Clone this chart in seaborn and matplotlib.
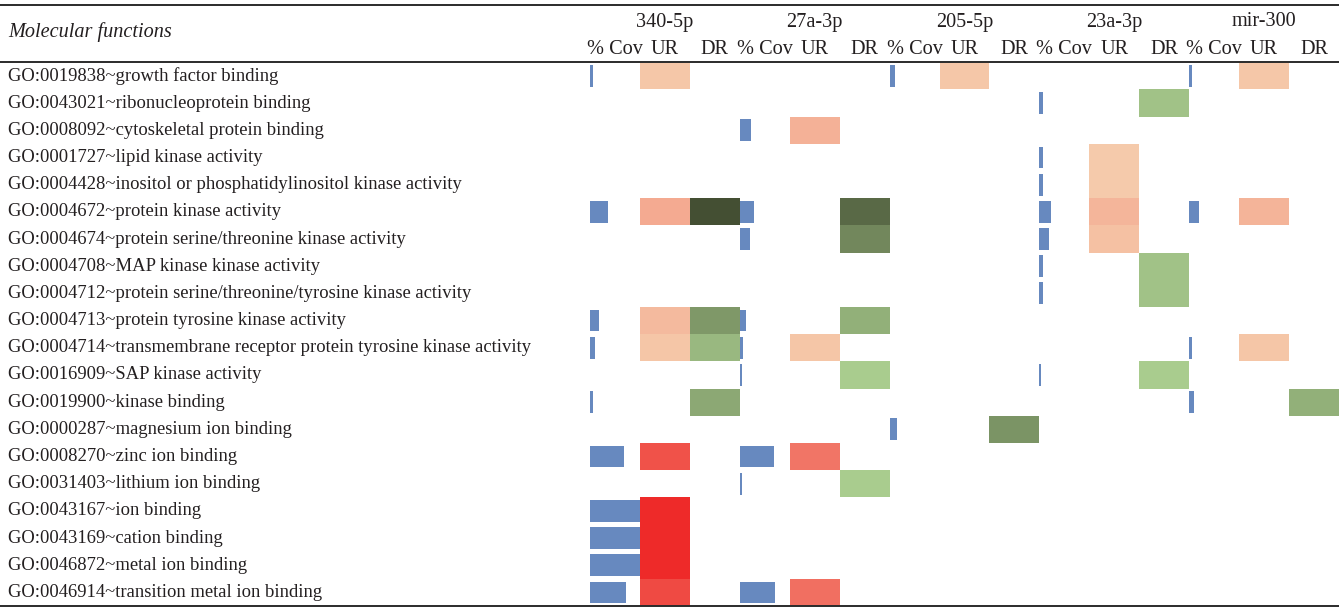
import numpy as np
import pandas as pd
import matplotlib
matplotlib.use('Agg')
import matplotlib.pyplot as plt
import matplotlib.transforms as mtransforms
from matplotlib.colors import LinearSegmentedColormap
from matplotlib.lines import Line2D
import seaborn as sns

nan = np.nan

# GO terms (rows)
go_terms = [
    "GO:0019838~growth factor binding",
    "GO:0043021~ribonucleoprotein binding",
    "GO:0008092~cytoskeletal protein binding",
    "GO:0001727~lipid kinase activity",
    "GO:0004428~inositol or phosphatidylinositol kinase activity",
    "GO:0004672~protein kinase activity",
    "GO:0004674~protein serine/threonine kinase activity",
    "GO:0004708~MAP kinase kinase activity",
    "GO:0004712~protein serine/threonine/tyrosine kinase activity",
    "GO:0004713~protein tyrosine kinase activity",
    "GO:0004714~transmembrane receptor protein tyrosine kinase activity",
    "GO:0016909~SAP kinase activity",
    "GO:0019900~kinase binding",
    "GO:0000287~magnesium ion binding",
    "GO:0008270~zinc ion binding",
    "GO:0031403~lithium ion binding",
    "GO:0043167~ion binding",
    "GO:0043169~cation binding",
    "GO:0046872~metal ion binding",
    "GO:0046914~transition metal ion binding",
]
mirnas = ["340-5p", "27a-3p", "205-5p", "23a-3p", "mir-300"]
sub_cols = ["% Cov", "UR", "DR"]

# % Cov (100 = full column width)
cov_340 = [6.5, nan, nan, nan, nan, 37, nan, nan, nan, 19, 10, nan, 6.5, nan, 68, nan, 100, 100, 100, 72]
cov_27a = [nan, nan, 22, nan, nan, 29, 20, nan, nan, 12, 6.5, 4, nan, nan, 68, 4, nan, nan, nan, 71]
cov_205 = [10, nan, nan, nan, nan, nan, nan, nan, nan, nan, nan, nan, nan, 15, nan, nan, nan, nan, nan, nan]
cov_23a = [nan, 6.5, nan, 6.5, 6.5, 24, 20, 6.5, 6.5, nan, nan, 4, nan, nan, nan, nan, nan, nan, nan, nan]
cov_300 = [6.5, nan, nan, nan, nan, 19, nan, nan, nan, nan, 6.5, nan, 10, nan, nan, nan, nan, nan, nan, nan]

# UR enrichment score (0..1)
ur_340 = [0.02, nan, nan, nan, nan, 0.20, nan, nan, nan, 0.10, 0.03, nan, nan, nan, 0.75, nan, 1.0, 1.0, 1.0, 0.80]
ur_27a = [nan, nan, 0.16, nan, nan, nan, nan, nan, nan, nan, 0.03, nan, nan, nan, 0.53, nan, nan, nan, nan, 0.57]
ur_205 = [0.02, nan, nan, nan, nan, nan, nan, nan, nan, nan, nan, nan, nan, nan, nan, nan, nan, nan, nan, nan]
ur_23a = [nan, nan, nan, 0.0, 0.0, 0.13, 0.06, nan, nan, nan, nan, nan, nan, nan, nan, nan, nan, nan, nan, nan]
ur_300 = [0.02, nan, nan, nan, nan, 0.14, nan, nan, nan, nan, 0.03, nan, nan, nan, nan, nan, nan, nan, nan, nan]

# DR enrichment score (0..1)
dr_340 = [nan, nan, nan, nan, nan, 1.0, nan, nan, nan, 0.42, 0.16, nan, 0.29, nan, nan, nan, nan, nan, nan, nan]
dr_27a = [nan, nan, nan, nan, nan, 0.79, 0.55, nan, nan, 0.23, nan, 0.0, nan, nan, nan, 0.0, nan, nan, nan, nan]
dr_205 = [nan, nan, nan, nan, nan, nan, nan, nan, nan, nan, nan, nan, nan, 0.45, nan, nan, nan, nan, nan, nan]
dr_23a = [nan, 0.08, nan, nan, nan, nan, nan, 0.08, 0.08, nan, nan, 0.0, nan, nan, nan, nan, nan, nan, nan, nan]
dr_300 = [nan, nan, nan, nan, nan, nan, nan, nan, nan, nan, nan, nan, 0.23, nan, nan, nan, nan, nan, nan, nan]

cov = pd.DataFrame(dict(zip(mirnas, [cov_340, cov_27a, cov_205, cov_23a, cov_300])), index=go_terms)
ur = pd.DataFrame(dict(zip(mirnas, [ur_340, ur_27a, ur_205, ur_23a, ur_300])), index=go_terms)
dr = pd.DataFrame(dict(zip(mirnas, [dr_340, dr_27a, dr_205, dr_23a, dr_300])), index=go_terms)

sns.set_theme(style="white")
plt.rcParams['font.family'] = ['Liberation Serif', 'DejaVu Serif']

n_rows = len(go_terms)
n_cols = len(mirnas) * 3

# heat matrices: UR / DR columns only, other cells NaN
ur_mat = np.full((n_rows, n_cols), np.nan)
dr_mat = np.full((n_rows, n_cols), np.nan)
for g, m in enumerate(mirnas):
    ur_mat[:, 3 * g + 1] = ur[m].values
    dr_mat[:, 3 * g + 2] = dr[m].values

ur_cmap = LinearSegmentedColormap.from_list("ur", ["#F5CAAB", "#EE2A29"])
dr_cmap = LinearSegmentedColormap.from_list("dr", ["#A9CC8E", "#444F33"])

W, H = 1339, 607
fig = plt.figure(figsize=(W / 100, H / 100), dpi=100)
top_px, bot_px, left_px = 62.3, 606, 590
ax = fig.add_axes([left_px / W, 1 - bot_px / H, (W - left_px) / W, (bot_px - top_px) / H])

sns.heatmap(ur_mat, cmap=ur_cmap, vmin=0, vmax=1, cbar=False, ax=ax,
            xticklabels=False, yticklabels=False)
sns.heatmap(dr_mat, cmap=dr_cmap, vmin=0, vmax=1, cbar=False, ax=ax,
            xticklabels=False, yticklabels=False)

# % Cov bars
ypos = np.arange(n_rows) + 0.5
for g, m in enumerate(mirnas):
    ax.barh(ypos, cov[m].values / 100.0, left=3 * g, height=0.8,
            color="#6789BF", linewidth=0, zorder=3)

ax.set_xlim(0, n_cols)
ax.set_ylim(n_rows, 0)
ax.set_axis_off()

fs_row = 13.4
fs_head = 14.6
txt_color = '#231f20'

# row labels
trans_rows = mtransforms.blended_transform_factory(fig.transFigure, ax.transData)
for i, term in enumerate(go_terms):
    ax.text(8 / W, i + 0.5, term, transform=trans_rows, ha='left', va='center',
            fontsize=fs_row, color=txt_color, clip_on=False)

# column headers
trans_head = mtransforms.blended_transform_factory(ax.transData, fig.transFigure)
for g, m in enumerate(mirnas):
    ax.text(3 * g + 1.5, 1 - 22 / H, m, transform=trans_head, ha='center', va='center',
            fontsize=fs_head, color=txt_color, clip_on=False)
    for k, s in enumerate(sub_cols):
        ax.text(3 * g + 0.5 + k, 1 - 49 / H, s, transform=trans_head, ha='center', va='center',
                fontsize=fs_head, color=txt_color, clip_on=False)

fig.text(8 / W, 1 - 32 / H, "Molecular functions", ha='left', va='center',
         fontsize=fs_head, style='italic', color=txt_color)

# table rules
for y in [5, 62, 605.5]:
    fig.add_artist(Line2D([0, 1], [1 - y / H, 1 - y / H], color='#2b2b2b', lw=1.4,
                          transform=fig.transFigure))

fig.savefig("out.png", dpi=100)
